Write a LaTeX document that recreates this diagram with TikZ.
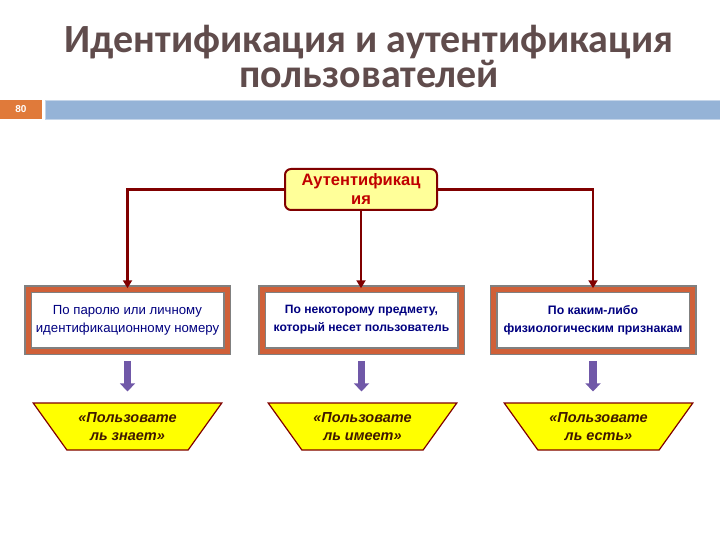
\documentclass[tikz,border=0pt]{standalone}
\usepackage{fontspec}
\setmainfont{Liberation Sans}
\newfontfamily\titlefont{Carlito}
\usepackage{xcolor}
\usetikzlibrary{positioning,calc,shapes.geometric,arrows.meta}
\definecolor{titlecol}{RGB}{96,76,76}
\definecolor{barblue}{RGB}{149,179,215}
\definecolor{numorange}{RGB}{224,122,58}
\definecolor{linkred}{RGB}{128,0,0}
\definecolor{authfill}{RGB}{255,255,153}
\definecolor{authtext}{RGB}{192,0,0}
\definecolor{boxgray}{RGB}{128,128,128}
\definecolor{boxorange}{RGB}{208,96,56}
\definecolor{boxtext}{RGB}{0,0,128}
\definecolor{downpurple}{RGB}{112,88,168}
\definecolor{trapfill}{RGB}{255,255,0}
\definecolor{traptext}{RGB}{64,24,0}

\begin{document}
\begin{tikzpicture}[
		x=1pt, y=-1pt,
		auth/.style={draw=linkred, line width=2pt, fill=authfill, rounded corners=6pt, minimum width=152pt, minimum height=41pt, inner sep=1pt, align=center, text=authtext, font=\bfseries\fontsize{16.5}{19}\selectfont},
		way/.style={draw=boxgray, double=boxorange, double distance=5pt, line width=1.5pt, fill=white, minimum width=199pt, minimum height=62pt, align=center, text=boxtext, font=\fontsize{13.2}{18}\selectfont},
		kind/.style={trapezium, shape border rotate=180, trapezium left angle=50, trapezium right angle=50, trapezium stretches=true, minimum width=189pt, minimum height=47pt, draw=linkred, line width=1.2pt, fill=trapfill, align=center, text=traptext, font=\bfseries\itshape\fontsize{14.5}{18}\selectfont},
		link/.style={draw=linkred, line width=2.5pt, -{Triangle[width=9pt,length=8pt]}},
		down/.style={draw=downpurple, line width=7.5pt, -{Triangle[width=15pt,length=8pt]}}
		]
		\useasboundingbox (0,0) rectangle (720,540);
		
		% ===== заголовок =====
		\node[text=titlecol, font=\titlefont\bfseries\fontsize{40}{35}\selectfont, align=center] (title) at (369,56) {Идентификация и аутентификация\\пользователей};
		
		% ===== номер слайда и полоса =====
		\node[fill=numorange, minimum width=42pt, minimum height=19pt, inner sep=0pt, text=white, font=\bfseries\fontsize{10}{10}\selectfont] (page) at (21,109.5) {80};
		\node[fill=barblue, draw=barblue!55, line width=0.6pt, minimum width=675pt, minimum height=19pt, anchor=west] (bar) at (45,109.5) {};
		
		% ===== верхний блок =====
		\node[auth] (A) at (361,189.5) {Аутентификац\\ия};
		
		% ===== три способа =====
		\node[way] (B1) at (127.5,320) {По паролю или личному\\идентификационному номеру};
		\node[way, font=\bfseries\fontsize{12.1}{18}\selectfont] (B2) at (361.5,320) {По некоторому предмету,\\который несет пользователь};
		\node[way, font=\bfseries\fontsize{12.3}{18}\selectfont] (B3) at (593,320) {По каким-либо\\физиологическим признакам};
		
		% ===== трапеции =====
		\node[kind] (T1) at (127.5,426.5) {«Пользовате\\ль знает»};
		\node[kind] (T2) at (362.5,426.5) {«Пользовате\\ль имеет»};
		\node[kind] (T3) at (598.5,426.5) {«Пользовате\\ль есть»};
		
		% ===== стрелки =====
		\draw[link] (A.west) -| (B1.north);
		\draw[link] (A.south) -- (A.south |- B2.north);
		\draw[link] (A.east) -| (B3.north);
		
		\foreach \i in {1,2,3}{
			\draw[down] ($(B\i.south)+(0,9)$) -- ($(B\i.south |- T\i.north)+(0,-11)$);
		}
		
	\end{tikzpicture}
\end{document}
